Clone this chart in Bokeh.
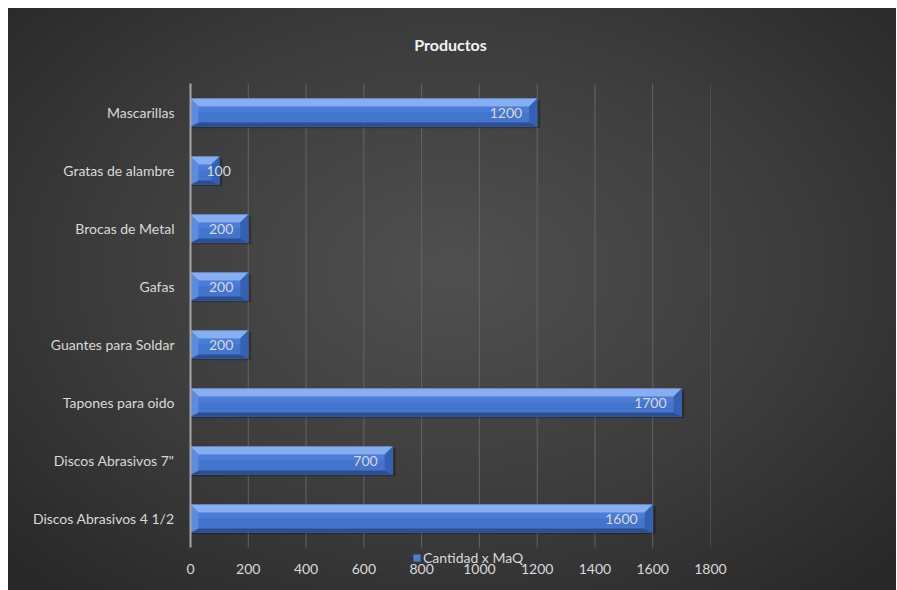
from bokeh.plotting import figure
from bokeh.models import Legend, LegendItem, FixedTicker, Range1d, ColumnDataSource, LinearAxis
from bokeh.embed import file_html
from bokeh.resources import INLINE

categories = ["Discos Abrasivos 4 1/2", "Discos Abrasivos 7\"", "Tapones para oido",
              "Guantes para Soldar", "Gafas", "Brocas de Metal", "Gratas de alambre", "Mascarillas"]
values = [1600, 700, 1700, 200, 200, 200, 100, 1200]
x_ticks = [0, 200, 400, 600, 800, 1000, 1200, 1400, 1600, 1800]
series_name = "Cantidad x MaQ"
title_text = "Productos"

FONT = "Lato"
TXT = "#d9d9d9"

n = len(categories)
p = figure(frame_width=520, frame_height=493, output_backend="svg", toolbar_location=None,
           x_range=Range1d(0, 1800), y_range=Range1d(-1.0, n - 0.5),
           min_border_left=182, min_border_right=186, min_border_top=75, min_border_bottom=14)
p.styles = {"margin-left": "8px", "margin-top": "8px",
            "background-image": "radial-gradient(ellipse 70% 75% at 50% 45%, #505050 0%, #3c3c3c 55%, #272727 100%)"}
p.border_fill_alpha = 0
p.background_fill_alpha = 0
p.outline_line_color = None

# x axis (bottom) - configured directly
xaxis = p.below[0]
xaxis.ticker = FixedTicker(ticks=x_ticks)
xaxis.axis_line_color = None
xaxis.major_tick_line_color = None
xaxis.minor_tick_line_color = None
xaxis.major_label_standoff = -19
xaxis.major_label_text_color = TXT
xaxis.major_label_text_font = FONT
xaxis.major_label_text_font_size = "14px"

# y axis
yaxis = p.left[0]
ys = list(range(n))
yaxis.ticker = FixedTicker(ticks=ys)
yaxis.bounds = (-0.5, n - 0.5)
yaxis.major_label_overrides = {i: c for i, c in enumerate(categories)}
yaxis.axis_line_color = "#a6a6a6"
yaxis.axis_line_width = 2
yaxis.major_tick_line_color = None
yaxis.minor_tick_line_color = None
yaxis.major_label_standoff = 10
yaxis.major_label_text_color = TXT
yaxis.major_label_text_font = FONT
yaxis.major_label_text_font_size = "14px"

p.xgrid.grid_line_color = None
p.ygrid.grid_line_color = None

# top axis without ticks, carrying the chart title as its label
top_axis = LinearAxis(ticker=FixedTicker(ticks=[-1000]), axis_line_color=None,
                      major_tick_line_color=None, minor_tick_line_color=None,
                      major_tick_out=0, major_tick_in=0, minor_tick_out=0, minor_tick_in=0,
                      major_label_standoff=0,
                      axis_label=title_text, axis_label_standoff=30,
                      axis_label_text_color="#f2f2f2", axis_label_text_font=FONT,
                      axis_label_text_font_size="16px", axis_label_text_font_style="bold")
p.add_layout(top_axis, "above")

# vertical gridlines spanning only the category band area
p.segment(x0=x_ticks[1:], x1=x_ticks[1:], y0=-0.5, y1=n - 0.5, line_color="#646464", line_width=1)

h = 0.24
xpx = 1800 / 520.0
bx = 8 * xpx
by_top = 8 / 58.0
by_bot = 4 / 58.0

# shadow
p.hbar(y=[y - 0.03 for y in ys], left=0, right=[v + 3 * xpx for v in values], height=2 * h,
       fill_color="black", fill_alpha=0.25, line_color=None)

# face
face = p.hbar(y=ys, left=0, right=values, height=2 * h, fill_color="#4a7dd6", line_color=None)
p.hbar(y=[y - h / 2 for y in ys], left=0, right=values, height=h, fill_color="#3f70c8",
       fill_alpha=0.6, line_color=None)

top_xs, top_ys, bot_xs, bot_ys, l_xs, l_ys, r_xs, r_ys = [], [], [], [], [], [], [], []
for y, v in zip(ys, values):
    top, bot = y + h, y - h
    top_xs.append([0, v, v - bx, bx]); top_ys.append([top, top, top - by_top, top - by_top])
    bot_xs.append([0, v, v - bx, bx]); bot_ys.append([bot, bot, bot + by_bot, bot + by_bot])
    l_xs.append([0, bx, bx, 0]); l_ys.append([top, top - by_top, bot + by_bot, bot])
    r_xs.append([v, v - bx, v - bx, v]); r_ys.append([top, top - by_top, bot + by_bot, bot])

p.patches(xs=top_xs, ys=top_ys, fill_color="#86aef0", line_color=None)
p.patches(xs=bot_xs, ys=bot_ys, fill_color="#2b4f92", line_color=None)
p.patches(xs=l_xs, ys=l_ys, fill_color="#5a8ce0", line_color=None)
p.patches(xs=r_xs, ys=r_ys, fill_color="#3461b3", line_color=None)

# data labels
lab_x, lab_align, lab_off = [], [], []
for v in values:
    if v >= 200:
        lab_x.append(v); lab_align.append("right"); lab_off.append(-15)
    else:
        lab_x.append(0); lab_align.append("left"); lab_off.append(16)
src = ColumnDataSource(dict(x=lab_x, y=ys, t=[str(v) for v in values], a=lab_align, o=lab_off))
p.text(x="x", y="y", text="t", source=src, text_align="a", x_offset="o",
       text_baseline="middle", text_color=TXT, text_font_size="14px",
       text_font={"value": FONT})

# legend inside the lower strip of the frame
legend = Legend(items=[LegendItem(label=series_name, renderers=[face])],
                location=(222, 10),
                background_fill_alpha=0, border_line_color=None,
                label_text_color=TXT, label_text_font=FONT, label_text_font_size="14px",
                glyph_width=9, glyph_height=9, padding=0, margin=0, label_standoff=2,
                spacing=0, label_height=14)
p.add_layout(legend, "center")

open("out.html", "w").write(file_html(p, INLINE))
